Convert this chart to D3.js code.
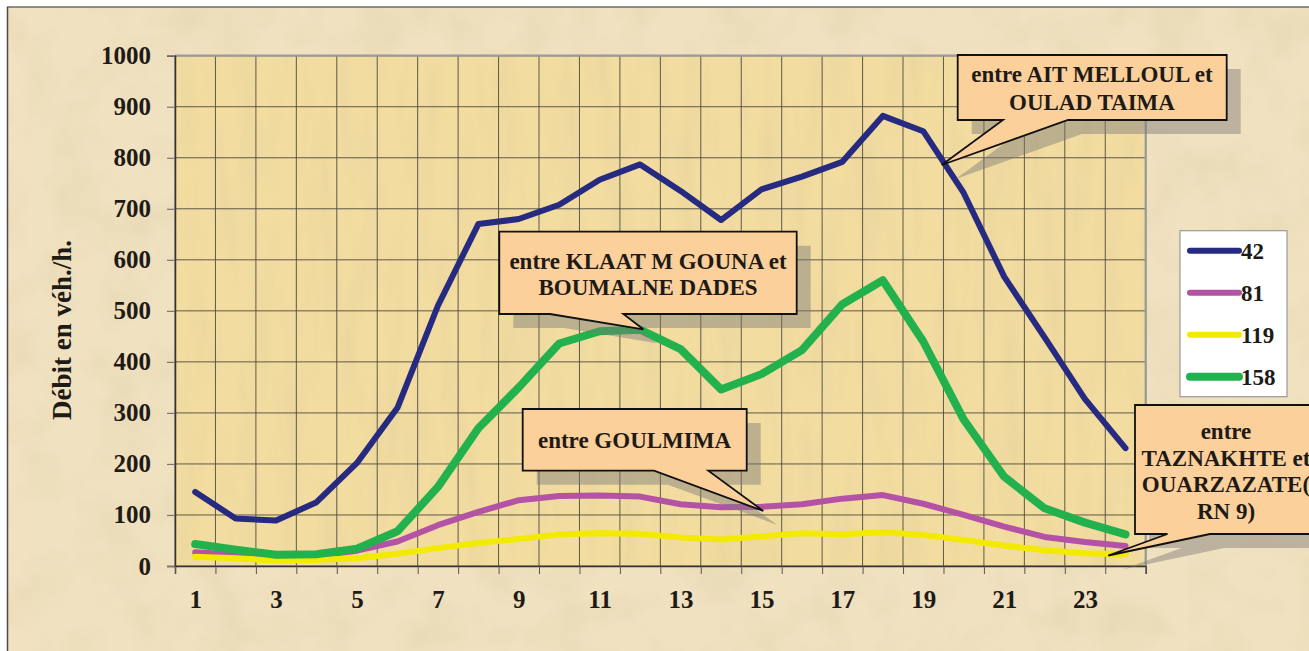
<!DOCTYPE html>
<html><head><meta charset="utf-8">
<script src="https://cdn.jsdelivr.net/npm/d3@7"></script>
<style>
html,body{margin:0;padding:0;background:#fff;}
svg{display:block;}
text{font-family:"Liberation Serif","Times New Roman",serif;font-weight:bold;fill:#1e1a16;}
</style></head>
<body><svg id="c" width="1309" height="651"></svg>
<script>
const hours = [1,2,3,4,5,6,7,8,9,10,11,12,13,14,15,16,17,18,19,20,21,22,23,24];
const hourLabels = [1,3,5,7,9,11,13,15,17,19,21,23];
const yTicks = [0,100,200,300,400,500,600,700,800,900,1000];
const seriesNames = ["42","81","119","158"];
const s42  = [145,93,89,125,202,310,510,670,680,708,757,787,735,678,738,763,792,882,852,731,567,448,327,231];
const s81  = [27,22,18,20,30,48,80,106,129,137,138,136,121,115,116,121,132,139,122,100,77,57,47,39];
const s119 = [18,15,11,12,15,24,35,45,53,62,64,63,56,52,58,64,62,66,61,51,40,31,25,23];
const s158 = [43,32,22,23,34,68,155,270,350,436,460,463,425,346,376,423,513,560,440,287,175,113,85,62];
const yTitle = "Débit en véh./h.";
const calloutTexts = [
  ["entre AIT MELLOUL et","OULAD TAIMA"],
  ["entre KLAAT M GOUNA et","BOUMALNE DADES"],
  ["entre GOULMIMA"],
  ["entre","TAZNAKHTE et","OUARZAZATE(","RN 9)"]
];

const colors = ["#262a80","#b452a6","#f2ea00","#22b14c"];
const widths = [6,6,6,8];
const allSeries = [s42,s81,s119,s158];

const svg = d3.select("#c");
const defs = svg.append("defs");
function texture(id, freq, seed){
  const f = defs.append("filter").attr("id",id).attr("x",0).attr("y",0).attr("width","100%").attr("height","100%");
  f.append("feTurbulence").attr("type","fractalNoise").attr("baseFrequency",freq).attr("numOctaves",3).attr("seed",seed).attr("result","n");
  f.append("feColorMatrix").attr("in","n").attr("type","matrix")
    .attr("values","0 0 0 0 0.6  0 0 0 0 0.5  0 0 0 0 0.3  0 0 0 -1.8 1.05");
}
texture("tex1","0.02 0.02",7);
texture("tex2","0.05 0.008",3);

const L = 175, R = 1145.7, T = 55.7, B = 566;
const x = d3.scaleLinear().domain([0.5,24.5]).range([L,R]);
const y = d3.scaleLinear().domain([0,1000]).range([B,T]);

// outer background
svg.append("rect").attr("x",7).attr("y",7).attr("width",1309).attr("height",651).attr("fill","#f0e1c0");
svg.append("rect").attr("x",7).attr("y",7).attr("width",1309).attr("height",651).attr("filter","url(#tex1)").attr("opacity",0.22);
svg.append("line").attr("x1",7).attr("x2",1309).attr("y1",7).attr("y2",7).attr("stroke","#6b6b6b").attr("stroke-width",1.5);
svg.append("line").attr("x1",7.5).attr("x2",7.5).attr("y1",7).attr("y2",651).attr("stroke","#4a4a4a").attr("stroke-width",1.5);

// plot background
svg.append("rect").attr("x",L).attr("y",T).attr("width",R-L).attr("height",B-T).attr("fill","#f2dca0");
svg.append("rect").attr("x",L).attr("y",T).attr("width",R-L).attr("height",B-T).attr("filter","url(#tex2)").attr("opacity",0.2);

// grid
const bounds = d3.range(0,25).map(k=>k+0.5);
svg.append("g").selectAll("line").data(bounds).join("line")
  .attr("x1",d=>x(d)).attr("x2",d=>x(d)).attr("y1",T).attr("y2",B)
  .attr("stroke","#4e4a40").attr("stroke-width",0.9);
svg.append("g").selectAll("line").data(yTicks).join("line")
  .attr("x1",L).attr("x2",R).attr("y1",d=>y(d)).attr("y2",d=>y(d))
  .attr("stroke","#4e4a40").attr("stroke-width",0.9);
svg.append("line").attr("x1",L).attr("x2",R+1).attr("y1",T).attr("y2",T).attr("stroke","#9a9a9a").attr("stroke-width",2.2);
svg.append("line").attr("x1",R).attr("x2",R).attr("y1",T).attr("y2",B).attr("stroke","#9a9a9a").attr("stroke-width",2.2);

// axes
const yAxis = d3.axisLeft(y).tickValues(yTicks).tickSize(8).tickPadding(16).tickFormat(d3.format("d"));
const gy = svg.append("g").attr("transform",`translate(${L},0)`).call(yAxis);
gy.select(".domain").attr("stroke","#333").attr("stroke-width",1.5);
gy.selectAll(".tick line").attr("stroke","#777").attr("stroke-width",1.2);
gy.selectAll(".tick text").attr("font-size",25).attr("fill","#1e1a16");

const xTickAxis = d3.axisBottom(x).tickValues(bounds).tickSize(8).tickFormat("");
const gxt = svg.append("g").attr("transform",`translate(0,${B})`).call(xTickAxis);
gxt.select(".domain").attr("stroke","#333").attr("stroke-width",1.5);
gxt.selectAll(".tick line").attr("stroke","#555").attr("stroke-width",1);

const xAxis = d3.axisBottom(x).tickValues(hourLabels).tickSize(0).tickPadding(24);
const gx = svg.append("g").attr("transform",`translate(0,${B})`).call(xAxis);
gx.select(".domain").remove();
gx.selectAll(".tick text").attr("font-size",25).attr("fill","#1e1a16");

// y title
svg.append("text").attr("transform","translate(71,330) rotate(-90)")
  .attr("text-anchor","middle").attr("font-size",27).text(yTitle);

// lines
const line = d3.line().x((d,i)=>x(hours[i])).y(d=>y(d));
allSeries.forEach((s,k)=>{
  svg.append("path").attr("d",line(s)).attr("fill","none")
    .attr("stroke",colors[k]).attr("stroke-width",widths[k])
    .attr("stroke-linecap","round").attr("stroke-linejoin","round");
});

// legend
const lg = svg.append("g");
lg.append("rect").attr("x",1180).attr("y",230.7).attr("width",107).attr("height",166).attr("fill","#fff").attr("stroke","#9a9a9a").attr("stroke-width",1.2);
const legY = d3.scalePoint().domain(seriesNames).range([250.7,376.7]);
seriesNames.forEach((n,k)=>{
  lg.append("line").attr("x1",1190).attr("x2",1239).attr("y1",legY(n)).attr("y2",legY(n))
    .attr("stroke",colors[k]).attr("stroke-width",widths[k]).attr("stroke-linecap","round");
  lg.append("text").attr("x",1241).attr("y",legY(n)).attr("dy","0.35em").attr("font-size",23).text(n);
});

// callouts
const boxes = [
  {x0:957.7,y0:55,x1:1226.7,y1:120,b1:1003,b2:1068,tx:941.7,ty:165,cx:1092,ly:[74,101.7]},
  {x0:499.3,y0:231.7,x1:796.7,y1:314,b1:550,b2:623.3,tx:643.3,ty:329.3,cx:648,ly:[261,286.7]},
  {x0:522.7,y0:409,x1:746.7,y1:470.7,b1:654,b2:708.3,tx:763.3,ty:511,cx:634.5,ly:[440]},
  {x0:1135,y0:405,x1:1320,y1:534,b1:1167.5,b2:1210,tx:1108.3,ty:555.5,cx:1226,ly:[431,457.7,484.3,511]}
];
function calloutPath(b){
  return `M${b.x0},${b.y0}H${b.x1}V${b.y1}H${b.b2}L${b.tx},${b.ty}L${b.b1},${b.y1}H${b.x0}Z`;
}
calloutTexts.forEach((lines,i)=>{
  const b = boxes[i];
  const g = svg.append("g");
  g.append("path").attr("transform","translate(14,14)").attr("d",calloutPath(b)).attr("fill","#7d7a78").attr("opacity",0.45);
  g.append("path").attr("d",calloutPath(b)).attr("fill","#fcd09b").attr("stroke","#111").attr("stroke-width",1.8);
  lines.forEach((t,j)=>{
    g.append("text").attr("x",b.cx).attr("y",b.ly[j]).attr("dy","0.35em").attr("text-anchor","middle")
      .attr("font-size",23).text(t);
  });
});
</script></body></html>
